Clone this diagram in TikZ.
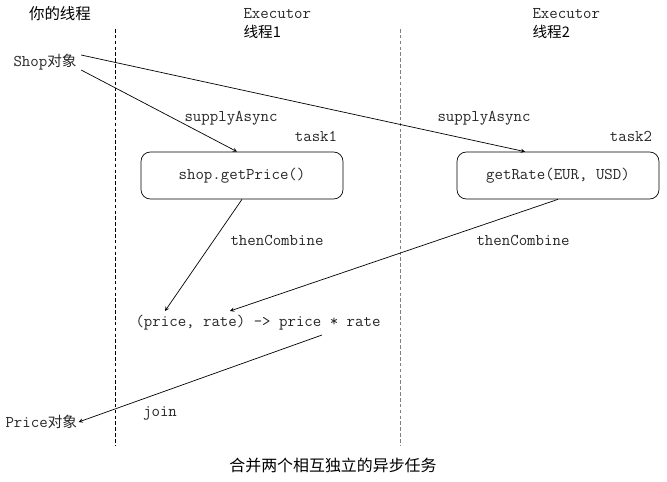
\documentclass[tikz,border=0pt]{standalone}
\usepackage{fontspec}
\newfontfamily\cjk{Noto Sans CJK SC}
\usetikzlibrary{calc}

\tikzset{
    mono/.style={font=\ttfamily\fontsize{14}{16}\selectfont, text=black!85, inner sep=1pt},
    cjklabel/.style={font=\cjk\fontsize{12.5}{14}\selectfont, inner sep=1pt},
    taskbox/.style={draw, rounded corners=8pt, minimum width=6.06cm, minimum height=1.41cm, mono},
    divider/.style={dashed, dash pattern=on 3pt off 2pt, line width=0.6pt}
}

\begin{document}
\begin{tikzpicture}[>=stealth, x=0.03cm, y=-0.03cm, line width=0.6pt]
                \useasboundingbox (0, 0) rectangle (667, 482);

                % Headers
                \node[cjklabel, font=\cjk\fontsize{13.2}{15}\selectfont] at (60, 14) (yours) {你的线程};
                \node[mono, anchor=west] at (242, 14) (exec1) {Executor};
                \node[cjklabel, anchor=west] at (242, 32) (thread1) {线程1};
                \node[mono, anchor=west] at (531, 14) (exec2) {Executor};
                \node[cjklabel, anchor=west] at (531, 32) (thread2) {线程2};

                % Dividers
                \draw[divider] (115, 29) -- (115, 445);
                \draw[divider, gray] (400, 29) -- (400, 445);

                % Nodes
                \node[anchor=west, inner sep=1pt, text=black!85] at (12, 62) (shop) {\ttfamily\fontsize{14}{16}\selectfont Shop{\cjk\fontsize{12.5}{14}\selectfont 对象}};
                \node[taskbox] at (242, 175.5) (box1) {shop.getPrice()};
                \node[taskbox] at (558, 175.5) (box2) {getRate(EUR, USD)};
                \node[mono] at (316, 136) (task1) {task1};
                \node[mono] at (631, 136) (task2) {task2};
                \node[mono] at (258, 323) (formula) {(price, rate) -> price * rate};
                \node[anchor=west, inner sep=1pt, text=black!85] at (4, 422) (price) {\ttfamily\fontsize{14}{16}\selectfont Price{\cjk\fontsize{12.5}{14}\selectfont 对象}};

                % Edges
                \draw[->] ($(shop.east)+(3, 8)$) -- ($(box1.north)+(-5, 0)$);
                \node[mono] at (231, 118) (supply1) {supplyAsync};

                \draw[->] ($(shop.east)+(3, -7)$) -- ($(box2.north)+(-33, 0)$);
                \node[mono] at (484, 118) (supply2) {supplyAsync};

                \draw[->] (box1.south) -- ($(formula.center)+(-93, -12)$);
                \node[mono] at (277, 240) (combine1) {thenCombine};

                \draw[->] (box2.south) -- ($(formula.center)+(-28, -12)$);
                \node[mono] at (523, 240) (combine2) {thenCombine};

                \draw[->] ($(formula.center)+(64, 12)$) -- (price.east);
                \node[mono] at (160, 413) (join) {join};

                % Caption
                \node[cjklabel, font=\cjk\fontsize{13.6}{16}\selectfont] at (333, 465) (caption) {合并两个相互独立的异步任务};
            \end{tikzpicture}
\end{document}
